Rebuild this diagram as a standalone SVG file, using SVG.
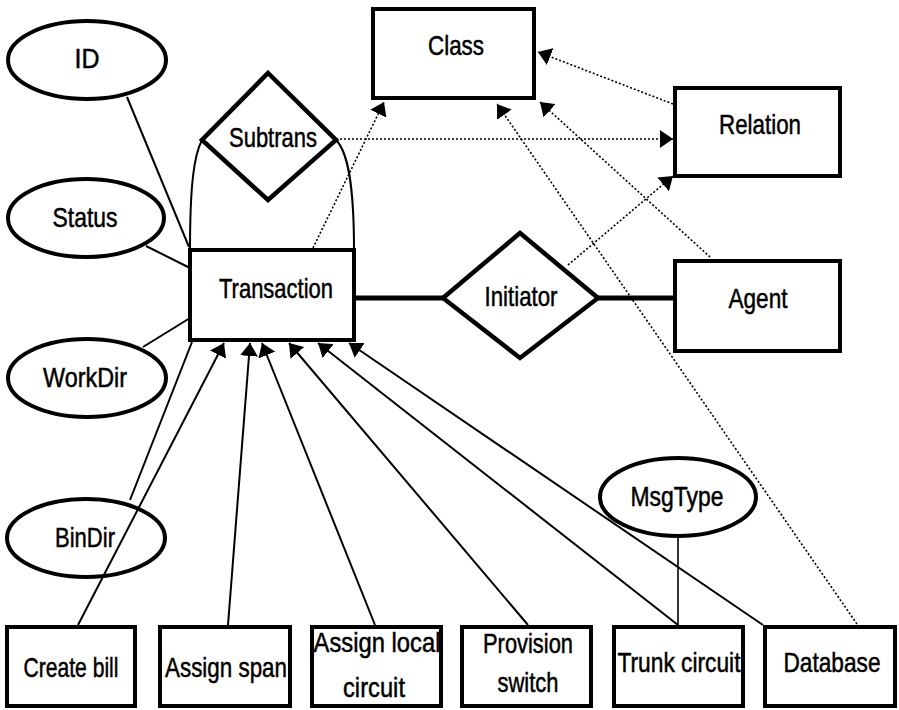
<svg xmlns="http://www.w3.org/2000/svg" width="899" height="710" viewBox="0 0 899 710">
  <style>
    .box { fill: #fff; stroke: #000; stroke-width: 4; }
    .dia { fill: #fff; stroke: #000; stroke-width: 4.5; stroke-linejoin: miter; }
    .attr { fill: none; stroke: #000; stroke-width: 4; }
    .lbl { font-family: "Liberation Sans", Arial, sans-serif; font-size: 28px; fill: #000; stroke: #000; stroke-width: 0.5; text-anchor: middle; }
    .solid { fill: none; stroke: #000; stroke-width: 2; }
    .heavy { fill: none; stroke: #000; stroke-width: 5; }
    .dot { fill: none; stroke: #000; stroke-width: 1.6; stroke-dasharray: 2 2; }
    .thin { fill: none; stroke: #000; stroke-width: 1.6; }
  </style>
  <defs>
    <marker id="arrow" markerUnits="userSpaceOnUse" markerWidth="14" markerHeight="18" refX="13" refY="9" orient="auto">
      <path d="M0,0 L13,9 L0,18 z" fill="#000"/>
    </marker>
  </defs>
  <rect width="899" height="710" fill="#fff"/>

  <!-- connectors -->
  <g id="connectors">
    <!-- attribute links to Transaction -->
    <line class="solid" x1="127" y1="97" x2="189" y2="247"/>
    <line class="solid" x1="146" y1="246" x2="190" y2="268"/>
    <line class="solid" x1="143" y1="347" x2="190" y2="318"/>
    <line class="solid" x1="130" y1="500" x2="192" y2="342"/>
    <line class="thin" x1="678" y1="537" x2="678" y2="625"/>
    <!-- Subtrans loop -->
    <path class="solid" d="M202,140 C194,155 190,185 190,250"/>
    <path class="solid" d="M336,140 C348,152 354,185 354,250"/>
    <!-- Initiator links -->
    <line class="heavy" x1="354" y1="298" x2="443" y2="298"/>
    <line class="heavy" x1="598" y1="298" x2="675" y2="298"/>
    <!-- task boxes to Transaction -->
    <line class="solid" x1="78" y1="625" x2="224" y2="343" marker-end="url(#arrow)"/>
    <line class="solid" x1="228" y1="625" x2="250" y2="343" marker-end="url(#arrow)"/>
    <line class="solid" x1="375" y1="625" x2="262" y2="343" marker-end="url(#arrow)"/>
    <line class="solid" x1="528" y1="625" x2="289" y2="343" marker-end="url(#arrow)"/>
    <line class="solid" x1="678" y1="625" x2="318" y2="343" marker-end="url(#arrow)"/>
    <line class="solid" x1="763" y1="625" x2="349" y2="343" marker-end="url(#arrow)"/>
    <!-- dotted class/relation links -->
    <line class="dot" x1="313" y1="248" x2="384" y2="102" marker-end="url(#arrow)"/>
    <line class="dot" x1="336" y1="139" x2="673" y2="139" marker-end="url(#arrow)"/>
    <line class="dot" x1="673" y1="104" x2="538" y2="52" marker-end="url(#arrow)"/>
    <line class="dot" x1="568" y1="265" x2="673" y2="176" marker-end="url(#arrow)"/>
    <line class="dot" x1="710" y1="257" x2="540" y2="102" marker-end="url(#arrow)"/>
    <line class="dot" x1="857" y1="624" x2="497" y2="104" marker-end="url(#arrow)"/>
  </g>

  <!-- entities -->
  <g id="class">
    <rect class="box" x="373" y="9" width="161" height="89"/>
    <text class="lbl" x="456" y="55" textLength="56" lengthAdjust="spacingAndGlyphs">Class</text>
  </g>
  <g id="relation">
    <rect class="box" x="675" y="88" width="165" height="88"/>
    <text class="lbl" x="760" y="134" textLength="82" lengthAdjust="spacingAndGlyphs">Relation</text>
  </g>
  <g id="agent">
    <rect class="box" x="675" y="261" width="165" height="90"/>
    <text class="lbl" x="758" y="308" textLength="59" lengthAdjust="spacingAndGlyphs">Agent</text>
  </g>
  <g id="transaction">
    <rect class="box" x="190" y="250" width="164" height="90"/>
    <text class="lbl" x="276" y="298" textLength="114" lengthAdjust="spacingAndGlyphs">Transaction</text>
  </g>

  <!-- relationships -->
  <g id="subtrans">
    <polygon class="dia" points="268,73 336,140 268,200 202,140"/>
    <text class="lbl" x="273" y="147" textLength="88" lengthAdjust="spacingAndGlyphs">Subtrans</text>
  </g>
  <g id="initiator">
    <polygon class="dia" points="520,233 598,298 520,358 443,298"/>
    <text class="lbl" x="521" y="306" textLength="73" lengthAdjust="spacingAndGlyphs">Initiator</text>
  </g>

  <!-- attributes -->
  <g id="id">
    <ellipse class="attr" cx="87" cy="60" rx="79" ry="39"/>
    <text class="lbl" x="87" y="68" textLength="25" lengthAdjust="spacingAndGlyphs">ID</text>
  </g>
  <g id="status">
    <ellipse class="attr" cx="86" cy="218" rx="78" ry="39"/>
    <text class="lbl" x="85" y="227" textLength="65" lengthAdjust="spacingAndGlyphs">Status</text>
  </g>
  <g id="workdir">
    <ellipse class="attr" cx="87" cy="378" rx="79" ry="39"/>
    <text class="lbl" x="85" y="387" textLength="84" lengthAdjust="spacingAndGlyphs">WorkDir</text>
  </g>
  <g id="bindir">
    <ellipse class="attr" cx="86" cy="538" rx="79" ry="39"/>
    <text class="lbl" x="85" y="547" textLength="60" lengthAdjust="spacingAndGlyphs">BinDir</text>
  </g>
  <g id="msgtype">
    <ellipse class="attr" cx="678" cy="497" rx="78" ry="39"/>
    <text class="lbl" x="677" y="506" textLength="93" lengthAdjust="spacingAndGlyphs">MsgType</text>
  </g>

  <!-- task boxes -->
  <g id="create-bill">
    <rect class="box" x="7" y="627" width="128" height="79"/>
    <text class="lbl" x="71" y="677" textLength="95" lengthAdjust="spacingAndGlyphs">Create bill</text>
  </g>
  <g id="assign-span">
    <rect class="box" x="160" y="627" width="130" height="79"/>
    <text class="lbl" x="226" y="677" textLength="122" lengthAdjust="spacingAndGlyphs">Assign span</text>
  </g>
  <g id="assign-local-circuit">
    <rect class="box" x="312" y="627" width="129" height="79"/>
    <text class="lbl" x="377" y="652" textLength="127" lengthAdjust="spacingAndGlyphs">Assign local</text>
    <text class="lbl" x="374" y="697" textLength="62" lengthAdjust="spacingAndGlyphs">circuit</text>
  </g>
  <g id="provision-switch">
    <rect class="box" x="462" y="627" width="129" height="79"/>
    <text class="lbl" x="528" y="653" textLength="90" lengthAdjust="spacingAndGlyphs">Provision</text>
    <text class="lbl" x="528" y="692" textLength="61" lengthAdjust="spacingAndGlyphs">switch</text>
  </g>
  <g id="trunk-circuit">
    <rect class="box" x="614" y="627" width="129" height="79"/>
    <text class="lbl" x="679" y="672" textLength="123" lengthAdjust="spacingAndGlyphs">Trunk circuit</text>
  </g>
  <g id="database">
    <rect class="box" x="765" y="627" width="130" height="79"/>
    <text class="lbl" x="832" y="672" textLength="97" lengthAdjust="spacingAndGlyphs">Database</text>
  </g>
</svg>
